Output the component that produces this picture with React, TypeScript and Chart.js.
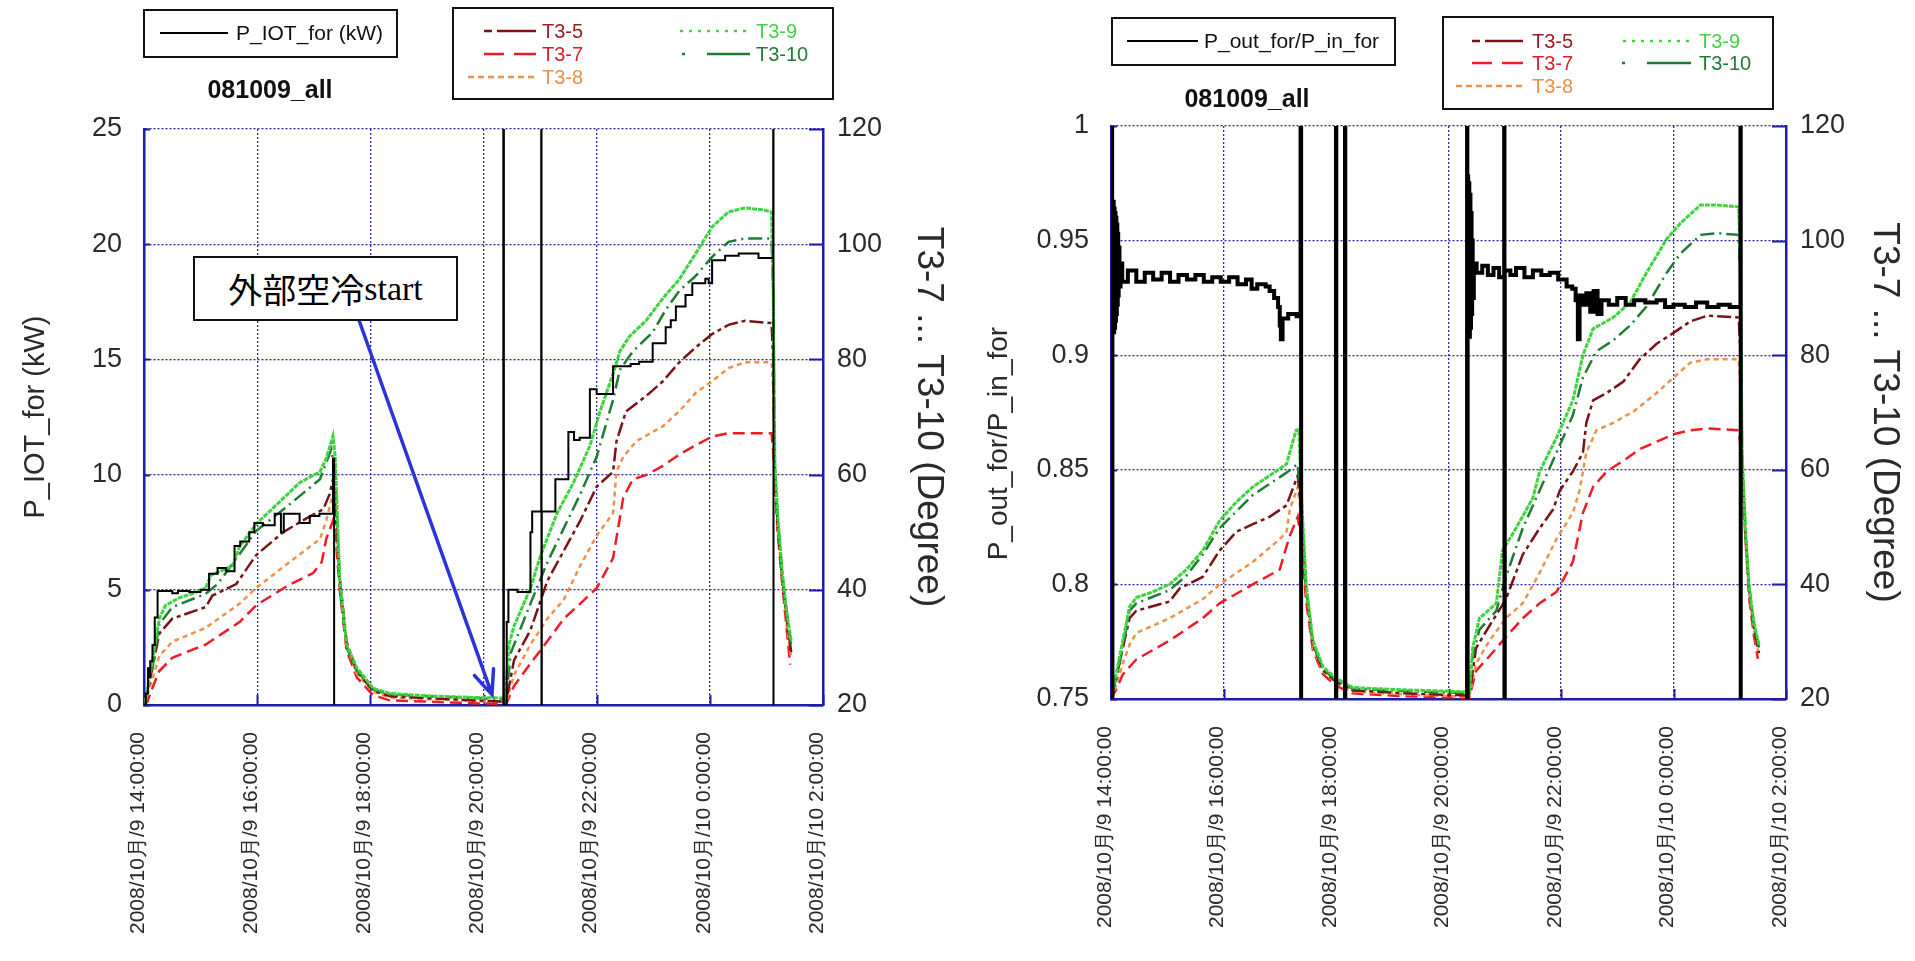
import React, { useEffect, useRef } from "react";
import { Chart, registerables } from "chart.js";

Chart.register(...registerables);

type Pt = [number, number];

// ---------- axis ticks / labels ----------
const X_TICKS = [14, 16, 18, 20, 22, 24, 26];
const X_TICK_LABELS = [
  "2008/10月/9 14:00:00",
  "2008/10月/9 16:00:00",
  "2008/10月/9 18:00:00",
  "2008/10月/9 20:00:00",
  "2008/10月/9 22:00:00",
  "2008/10月/10 0:00:00",
  "2008/10月/10 2:00:00",
];
const POWER_TICKS = [0, 5, 10, 15, 20, 25];
const RATIO_TICKS = [0.75, 0.8, 0.85, 0.9, 0.95, 1];
const RATIO_TICK_LABELS = ["0.75", "0.8", "0.85", "0.9", "0.95", "1"];
const TEMP_TICKS = [20, 40, 60, 80, 100, 120];
const SERIES_NAMES = ["T3-5", "T3-7", "T3-8", "T3-9", "T3-10"];

// ---------- left panel data: [hour, value] ----------
const L_POWER: Pt[] = [
  [14.0, 0], [14.03, 0.5], [14.07, 1.6], [14.09, 1.2], [14.11, 1.9], [14.15, 2.6], [14.19, 3.8], [14.24, 4.95],
  [14.5, 4.85], [14.6, 4.95], [14.8, 4.9], [15.0, 5.0], [15.15, 5.7], [15.3, 5.95], [15.45, 5.8], [15.6, 6.9],
  [15.7, 7.1], [15.86, 7.5], [15.95, 7.9], [16.1, 7.8], [16.31, 8.3], [16.42, 7.5], [16.47, 8.3], [16.75, 7.9],
  [16.93, 8.2], [17.1, 8.3], [17.34, 10.7], [17.36, -1],
  [20.35, 30], [20.36, 0], [20.41, 3.6], [20.44, 5.0], [20.6, 4.9], [20.83, 7.5], [20.86, 8.4],
  [21.02, 30], [21.025, -1], [21.03, 8.4], [21.27, 9.8], [21.5, 11.85], [21.6, 11.5], [21.7, 11.6],
  [21.88, 13.7], [22.0, 13.5], [22.29, 14.7], [22.6, 14.8], [22.75, 14.9], [22.99, 15.7], [23.22, 16.4],
  [23.31, 16.7], [23.4, 17.3], [23.57, 17.8], [23.69, 18.3], [23.92, 18.5], [23.98, 18.3], [24.04, 19.3],
  [24.27, 19.5], [24.51, 19.6], [24.86, 19.4], [25.12, 30], [25.125, -1],
];
const L_T35: Pt[] = [
  [14.0, 20.3], [14.03, 21], [14.15, 26.5], [14.27, 32.4], [14.5, 35], [15.09, 37], [15.21, 39], [15.63, 41],
  [15.98, 46], [16.46, 50], [16.87, 52.4], [17.17, 54], [17.28, 56.6], [17.34, 59.2], [17.38, 55], [17.46, 42],
  [17.58, 31], [17.76, 25.8], [18.05, 22.5], [18.35, 21.5], [19.83, 20.8], [20.4, 20.6],
  [20.54, 27.8], [20.83, 33], [21.13, 41.6], [21.42, 46.8], [21.71, 52], [22.0, 57.9], [22.29, 60.5],
  [22.35, 65.8], [22.52, 71], [22.87, 73.6], [23.17, 76.2], [23.46, 79.5], [23.75, 82.1], [24.04, 84.4],
  [24.33, 86], [24.62, 86.7], [25.09, 86.3], [25.12, 80], [25.15, 60], [25.2, 51], [25.28, 42], [25.36, 35], [25.44, 29],
];
const L_T37: Pt[] = [
  [14.0, 20], [14.06, 20.6], [14.15, 23], [14.27, 25.9], [14.5, 28.2], [15.09, 30.5], [15.69, 34.4],
  [15.98, 37.3], [16.57, 40.9], [16.99, 42.9], [17.14, 44.8], [17.22, 48.8], [17.34, 52], [17.38, 50],
  [17.46, 40], [17.58, 29.5], [17.76, 24.8], [18.05, 21.7], [18.35, 20.8], [19.83, 20.3], [20.4, 20.2],
  [20.54, 23.3], [20.83, 27.2], [21.13, 31.1], [21.42, 35], [21.71, 37.6], [22.0, 40.3], [22.29, 45.5],
  [22.47, 56], [22.64, 59.2], [22.87, 59.9], [23.17, 61.5], [23.46, 63.5], [23.75, 65.1], [24.04, 66.6],
  [24.33, 67.2], [25.09, 67.2], [25.12, 64], [25.15, 58], [25.2, 50], [25.28, 41], [25.36, 33], [25.42, 27],
];
const L_T38: Pt[] = [
  [14.0, 20.2], [14.03, 20.8], [14.15, 24.5], [14.27, 28.5], [14.5, 31], [15.09, 33.4], [15.69, 37.6],
  [15.98, 40.3], [16.57, 44.8], [17.11, 48.8], [17.22, 52], [17.34, 56.6], [17.38, 53], [17.46, 41],
  [17.58, 30.5], [17.76, 25.5], [18.05, 22.3], [18.35, 21.3], [19.83, 20.7], [20.4, 20.5],
  [20.54, 25.2], [20.83, 30.5], [21.13, 35], [21.42, 38.3], [21.71, 44.2], [22.0, 49.4], [22.29, 53.3],
  [22.35, 60.5], [22.47, 63.1], [22.7, 65.8], [23.17, 68.4], [23.46, 71], [23.75, 74.2], [24.04, 76.2],
  [24.33, 78.5], [24.62, 79.5], [25.09, 79.5], [25.12, 75], [25.15, 60], [25.2, 51], [25.28, 42], [25.36, 34], [25.44, 28],
];
const L_T39: Pt[] = [
  [14.0, 20.5], [14.03, 21], [14.1, 25], [14.15, 27.8], [14.22, 32], [14.27, 35], [14.38, 37.3], [14.62, 38.6],
  [14.9, 39.5], [15.09, 40.3], [15.18, 42.5], [15.57, 44.2], [15.69, 47.5], [15.98, 51.4], [16.4, 55.3],
  [16.75, 58.6], [17.11, 60.5], [17.22, 62.8], [17.34, 66.7], [17.38, 63], [17.46, 41.6], [17.58, 30.5],
  [17.76, 26.5], [18.05, 22.9], [18.35, 22.0], [19.0, 21.6], [19.83, 21.3], [20.38, 21.2],
  [20.45, 30.5], [20.54, 33.7], [20.83, 40.3], [21.01, 46], [21.3, 53.3], [21.59, 58.6], [21.88, 65],
  [22.06, 71], [22.29, 77.5], [22.41, 81.4], [22.58, 84], [22.87, 86.7], [23.17, 90.6], [23.46, 93.9],
  [23.75, 98.4], [24.04, 103], [24.33, 105.6], [24.62, 106.3], [24.92, 106], [25.09, 105.6], [25.12, 92],
  [25.15, 62], [25.2, 53], [25.28, 43], [25.36, 36], [25.44, 31],
];
const L_T310: Pt[] = [
  [14.0, 20.5], [14.05, 22], [14.15, 26.5], [14.27, 34], [14.5, 37], [15.09, 39.3], [15.3, 41], [15.69, 46.2],
  [15.98, 50.2], [16.57, 54.8], [17.11, 59.2], [17.31, 64.4], [17.38, 60], [17.46, 40], [17.58, 30],
  [17.76, 26], [18.05, 22.7], [18.35, 21.8], [19.83, 21.2], [20.4, 21],
  [20.48, 29], [20.83, 37.6], [21.13, 44.8], [21.42, 50.7], [21.71, 56.6], [22.0, 63.1], [22.29, 73],
  [22.41, 78.2], [22.64, 81.4], [22.99, 84.7], [23.22, 88.6], [23.46, 91.9], [23.75, 94.5], [24.04, 97.8],
  [24.33, 100.4], [24.62, 101], [25.09, 101], [25.12, 92], [25.15, 61], [25.2, 52], [25.28, 43], [25.36, 36], [25.44, 30],
];

// ---------- right panel data ----------
const R_RATIO: Pt[] = [
  [14.0, 0.74], [14.005, 1.02], [14.01, 0.74], [14.015, 1.02], [14.02, 0.74],
  [14.025, 0.966], [14.032, 0.912], [14.04, 0.967], [14.048, 0.91], [14.056, 0.964], [14.064, 0.912],
  [14.072, 0.962], [14.08, 0.915], [14.088, 0.96], [14.096, 0.918], [14.104, 0.957], [14.112, 0.922],
  [14.12, 0.953], [14.128, 0.926], [14.136, 0.947], [14.15, 0.93], [14.17, 0.94], [14.2, 0.932],
  [14.3, 0.937], [14.45, 0.932], [14.6, 0.936], [14.75, 0.933], [14.9, 0.936], [15.05, 0.932], [15.2, 0.935],
  [15.35, 0.933], [15.5, 0.935], [15.65, 0.932], [15.8, 0.934], [15.95, 0.932], [16.1, 0.934], [16.25, 0.931],
  [16.4, 0.933], [16.5, 0.929], [16.6, 0.931], [16.75, 0.93], [16.82, 0.928], [16.9, 0.925], [16.97, 0.921],
  [17.0, 0.913], [17.02, 0.907], [17.05, 0.916], [17.15, 0.918], [17.3, 0.917],
  [17.37, 1.02], [17.38, 0.7], [18.0, 1.02], [18.005, 0.7], [18.16, 1.02], [18.165, 0.7], [20.33, 1.02], [20.335, 0.7],
  [20.34, 0.978], [20.35, 0.91], [20.36, 0.975], [20.37, 0.908], [20.38, 0.97], [20.39, 0.912], [20.4, 0.962],
  [20.41, 0.918], [20.42, 0.95], [20.43, 0.925], [20.45, 0.94], [20.5, 0.936], [20.6, 0.939], [20.7, 0.935],
  [20.8, 0.938], [20.9, 0.934],
  [20.99, 1.02], [20.995, 0.7], [21.0, 0.937], [21.1, 0.935], [21.2, 0.938], [21.35, 0.934], [21.5, 0.937],
  [21.65, 0.935], [21.8, 0.936], [21.95, 0.933], [22.1, 0.93], [22.2, 0.929], [22.26, 0.924], [22.3, 0.907],
  [22.33, 0.926], [22.4, 0.922], [22.45, 0.927], [22.52, 0.919], [22.58, 0.928], [22.65, 0.918], [22.72, 0.924],
  [22.85, 0.922], [23.0, 0.925], [23.15, 0.922], [23.3, 0.924], [23.5, 0.923], [23.7, 0.924], [23.85, 0.921],
  [24.0, 0.922], [24.2, 0.921], [24.4, 0.923], [24.6, 0.921], [24.8, 0.922], [25.0, 0.921], [25.19, 1.02], [25.195, 0.7],
];
const R_T35: Pt[] = [
  [14.0, 20.2], [14.09, 23.6], [14.21, 28.9], [14.33, 34.1], [14.45, 35.4], [15.04, 37], [15.22, 39.3],
  [15.63, 41.3], [15.93, 45.9], [16.23, 49.2], [16.52, 50.5], [16.82, 51.8], [17.12, 53.8], [17.32, 59],
  [17.38, 53], [17.47, 39], [17.59, 29.5], [17.77, 25], [18.0, 23], [18.3, 21.5], [19.19, 21], [20.37, 20.6],
  [20.49, 28.9], [20.73, 32.8], [21.02, 37.4], [21.32, 45.2], [21.62, 49.8], [21.86, 53.1], [21.98, 56.4],
  [22.21, 59.7], [22.39, 63], [22.45, 68.2], [22.57, 72.1], [22.81, 73.4], [23.11, 75.4], [23.4, 79.3],
  [23.7, 82], [24.0, 83.9], [24.3, 85.9], [24.6, 86.9], [25.16, 86.6], [25.19, 80], [25.22, 61], [25.28, 48.5],
  [25.34, 39.5], [25.43, 32.5], [25.52, 28],
];
const R_T37: Pt[] = [
  [14.0, 20], [14.09, 21.6], [14.21, 24.3], [14.45, 26.9], [15.04, 30.2], [15.63, 34.1], [15.93, 36.7],
  [16.52, 40], [17.0, 42.6], [17.12, 46.6], [17.18, 48.5], [17.32, 51.8], [17.38, 48], [17.47, 37],
  [17.59, 28.5], [17.77, 24.3], [18.0, 22.3], [18.3, 21], [19.19, 20.5], [20.37, 20.2],
  [20.49, 24.9], [20.73, 27.5], [21.02, 30.8], [21.32, 34.1], [21.62, 36.7], [21.92, 38.7], [22.21, 43.9],
  [22.39, 52.5], [22.57, 57], [22.81, 59.7], [23.11, 61.6], [23.4, 63.6], [23.7, 64.9], [24.0, 66.2],
  [24.3, 66.9], [24.6, 67.2], [25.16, 66.9], [25.19, 64], [25.22, 58], [25.28, 48], [25.34, 38], [25.43, 31], [25.5, 27],
];
const R_T38: Pt[] = [
  [14.0, 20.1], [14.09, 22.3], [14.21, 26.2], [14.33, 29.5], [14.45, 31.5], [15.04, 34.1], [15.63, 37.4],
  [15.93, 40], [16.52, 43.9], [17.0, 47.9], [17.12, 49.2], [17.18, 53.1], [17.32, 57], [17.38, 52],
  [17.47, 38.5], [17.59, 29], [17.77, 24.8], [18.0, 22.8], [18.3, 21.3], [19.19, 20.8], [20.37, 20.4],
  [20.49, 26.2], [20.73, 30.2], [21.02, 34.1], [21.32, 36.7], [21.62, 42], [21.92, 47.9], [22.21, 52.5],
  [22.33, 56.4], [22.45, 63], [22.63, 66.9], [22.93, 68.2], [23.29, 70.2], [23.7, 73.4], [24.0, 76.1],
  [24.3, 78.7], [24.6, 79.3], [25.16, 79.3], [25.19, 74], [25.22, 60], [25.28, 48], [25.34, 39], [25.43, 32], [25.52, 27.5],
];
const R_T39: Pt[] = [
  [14.0, 20.5], [14.09, 24.3], [14.21, 30.2], [14.33, 36.1], [14.45, 37.7], [14.74, 38.7], [15.04, 40],
  [15.34, 42.6], [15.63, 45.9], [15.93, 51.1], [16.23, 54.4], [16.52, 57], [16.82, 59], [17.12, 61],
  [17.29, 66.9], [17.34, 67], [17.38, 56.4], [17.47, 40], [17.59, 30.2], [17.77, 25.6], [18.0, 23.6],
  [18.3, 22], [19.19, 21.6], [20.2, 21.3], [20.37, 21.2],
  [20.43, 28.9], [20.55, 34.1], [20.85, 36.7], [20.96, 45.9], [21.2, 49.8], [21.5, 55.1], [21.62, 59.7],
  [21.92, 65.6], [22.21, 72.1], [22.39, 80], [22.57, 84.6], [22.93, 86.6], [23.23, 89.2], [23.52, 94.4],
  [23.88, 100.3], [24.12, 103], [24.48, 106.2], [24.77, 106.2], [25.16, 105.9], [25.19, 95], [25.22, 63],
  [25.28, 49.8], [25.34, 40], [25.43, 33.4], [25.49, 30.8], [25.52, 29.5],
];
const R_T310: Pt[] = [
  [14.0, 20.3], [14.09, 23.5], [14.21, 28.9], [14.33, 35.4], [14.45, 36.7], [15.04, 39], [15.34, 41.5],
  [15.63, 45.2], [15.93, 49.8], [16.52, 55.6], [17.12, 59.5], [17.32, 61], [17.38, 54], [17.47, 39],
  [17.59, 29.5], [17.77, 25.2], [18.0, 23.3], [18.3, 21.8], [19.19, 21.4], [20.37, 21],
  [20.43, 27.5], [20.55, 32.1], [20.85, 35.4], [21.02, 41.3], [21.32, 49.8], [21.62, 56.4], [21.92, 63],
  [22.21, 69.5], [22.39, 76.1], [22.63, 80.7], [22.93, 82.6], [23.23, 85.2], [23.52, 88.5], [23.88, 94.4],
  [24.12, 97.7], [24.48, 101], [24.77, 101.3], [25.16, 101], [25.19, 92], [25.22, 62], [25.28, 49],
  [25.34, 40], [25.43, 33], [25.52, 29],
];

// annotation anchors (hour, kW)
const ARROW_FROM: Pt = [17.8, 16.7];
const ARROW_TO: Pt = [20.15, 0.45];

// ---------- styles ----------
const BLUE = "#1d1da8";
const GRID = "#2b2ba0";
const SANS = "'Liberation Sans', Arial, sans-serif";
const NARROW = "'Liberation Sans Narrow', 'Liberation Sans', Arial, sans-serif";
const STYLE: Record<string, { color: string; dash: number[]; width: number; legendDash: string; text: string }> = {
  "T3-5": { color: "#7a1216", dash: [14, 4, 4, 4], width: 2.5, legendDash: "8 5 38 0", text: "#9c1d24" },
  "T3-7": { color: "#ee1c25", dash: [12, 6], width: 2.5, legendDash: "20 10 22 0", text: "#d8202c" },
  "T3-8": { color: "#f0914a", dash: [5, 4], width: 2.5, legendDash: "6 4", text: "#e98f4a" },
  "T3-9": { color: "#3fd43f", dash: [5, 1], width: 3, legendDash: "3 6", text: "#45d045" },
  "T3-10": { color: "#1f7d33", dash: [2, 5, 14, 5], width: 2.5, legendDash: "3 22 45 0", text: "#237a35" },
};
const DRAW_ORDER = ["T3-9", "T3-10", "T3-5", "T3-8", "T3-7"];

interface Panel {
  width: number;
  height: number;
  plot: { left: number; right: number; top: number; bottom: number };
  leftMin: number;
  leftMax: number;
  leftTicks: number[];
  leftLabel: (v: number, i: number) => string;
  leftTitle: string;
  leftTitleSize: number;
  leftTitlePad: number;
  rightTitleSize: number;
  rightTitlePad: number;
  mainLabel: string;
  main: Pt[];
  mainWidth: number;
  temps: Record<string, Pt[]>;
  arrow: boolean;
}

const inwardTicks = {
  id: "inwardTicks",
  beforeDatasetsDraw(chart: any) {
    const { ctx, chartArea: a, scales } = chart;
    ctx.save();
    ctx.strokeStyle = BLUE;
    ctx.lineWidth = 2;
    ctx.beginPath();
    scales.x.ticks.forEach((t: any) => {
      const px = Math.round(scales.x.getPixelForValue(t.value)) + 0.5;
      ctx.moveTo(px, a.bottom);
      ctx.lineTo(px, a.bottom - 10);
    });
    scales.yR.ticks.forEach((t: any) => {
      const py = Math.round(scales.yR.getPixelForValue(t.value)) + 0.5;
      ctx.moveTo(a.right, py);
      ctx.lineTo(a.right - 14, py);
    });
    scales.yL.ticks.forEach((t: any) => {
      const py = Math.round(scales.yL.getPixelForValue(t.value)) + 0.5;
      ctx.moveTo(a.left, py);
      ctx.lineTo(a.left + 6, py);
    });
    ctx.stroke();
    ctx.restore();
  },
};

const arrowPlugin = {
  id: "coolingArrow",
  afterDatasetsDraw(chart: any) {
    const { ctx, scales } = chart;
    const x1 = scales.x.getPixelForValue(ARROW_FROM[0]);
    const y1 = scales.yL.getPixelForValue(ARROW_FROM[1]);
    const x2 = scales.x.getPixelForValue(ARROW_TO[0]);
    const y2 = scales.yL.getPixelForValue(ARROW_TO[1]);
    const ang = Math.atan2(y2 - y1, x2 - x1);
    const head = 26;
    ctx.save();
    ctx.strokeStyle = "#2e33d8";
    ctx.lineWidth = 3.5;
    ctx.lineCap = "round";
    ctx.beginPath();
    ctx.moveTo(x1, y1);
    ctx.lineTo(x2, y2);
    ctx.moveTo(x2 - head * Math.cos(ang - 0.4), y2 - head * Math.sin(ang - 0.4));
    ctx.lineTo(x2, y2);
    ctx.lineTo(x2 - head * Math.cos(ang + 0.4), y2 - head * Math.sin(ang + 0.4));
    ctx.stroke();
    ctx.restore();
  },
};

function buildConfig(p: Panel): any {
  const datasets: any[] = [
    {
      label: p.mainLabel,
      data: p.main.map(([x, y]) => ({ x, y })),
      yAxisID: "yL",
      borderColor: "#000",
      borderWidth: p.mainWidth,
      stepped: "before",
      pointRadius: 0,
      fill: false,
    },
    ...DRAW_ORDER.map((name) => ({
      label: name,
      data: p.temps[name].map(([x, y]) => ({ x, y })),
      yAxisID: "yR",
      borderColor: STYLE[name].color,
      borderDash: STYLE[name].dash,
      borderWidth: STYLE[name].width,
      pointRadius: 0,
      tension: 0,
      fill: false,
    })),
  ];
  return {
    type: "line",
    data: { datasets },
    options: {
      animation: false,
      responsive: false,
      events: [],
      layout: { padding: { top: p.plot.top, left: 0, right: 0, bottom: 0 } },
      plugins: { legend: { display: false }, tooltip: { enabled: false }, title: { display: false } },
      scales: {
        x: {
          type: "linear",
          min: 14,
          max: 26,
          afterBuildTicks: (s: any) => {
            s.ticks = X_TICKS.map((v) => ({ value: v }));
          },
          afterFit: (s: any) => {
            s.height = p.height - p.plot.bottom;
          },
          ticks: {
            autoSkip: false,
            maxRotation: 90,
            minRotation: 90,
            padding: 27,
            labelOffset: -6,
            color: "#2a2a2a",
            font: { family: SANS, size: 21 },
            callback: (_v: any, i: number) => X_TICK_LABELS[i],
          },
          grid: { color: GRID, lineWidth: 1.3, drawTicks: false },
          border: { color: BLUE, width: 2.5, dash: [2, 2] },
        },
        yL: {
          type: "linear",
          position: "left",
          min: p.leftMin,
          max: p.leftMax,
          afterBuildTicks: (s: any) => {
            s.ticks = p.leftTicks.map((v) => ({ value: v }));
          },
          afterFit: (s: any) => {
            s.width = p.plot.left;
          },
          ticks: {
            padding: 22,
            color: "#2a2a2a",
            font: { family: NARROW, size: 27 },
            callback: (v: any, i: number) => p.leftLabel(v, i),
          },
          grid: { color: GRID, lineWidth: 1.3, drawTicks: false },
          border: { color: BLUE, width: 2.5, dash: [2, 2] },
          title: {
            display: true,
            text: p.leftTitle,
            color: "#2a2a2a",
            font: { family: SANS, size: p.leftTitleSize },
            padding: { top: p.leftTitlePad, bottom: 0 },
          },
        },
        yR: {
          type: "linear",
          position: "right",
          min: 20,
          max: 120,
          afterBuildTicks: (s: any) => {
            s.ticks = TEMP_TICKS.map((v) => ({ value: v }));
          },
          afterFit: (s: any) => {
            s.width = p.width - p.plot.right;
          },
          ticks: {
            padding: 14,
            color: "#2a2a2a",
            font: { family: NARROW, size: 27 },
            callback: (v: any) => String(v),
          },
          grid: { display: false, drawTicks: false },
          border: { color: BLUE, width: 2.5 },
          title: {
            display: true,
            text: "T3-7 ... T3-10 (Degree)",
            color: "#2a2a2a",
            font: { family: SANS, size: p.rightTitleSize },
            padding: { top: p.rightTitlePad, bottom: 0 },
          },
        },
      },
    },
    plugins: p.arrow ? [inwardTicks, arrowPlugin] : [inwardTicks],
  };
}

const LEFT_PANEL: Panel = {
  width: 960,
  height: 961,
  plot: { left: 144, right: 823, top: 129, bottom: 705 },
  leftMin: 0,
  leftMax: 25,
  leftTicks: POWER_TICKS,
  leftLabel: (v) => String(v),
  leftTitle: "P_IOT_for (kW)",
  leftTitleSize: 29,
  leftTitlePad: 19,
  rightTitleSize: 37,
  rightTitlePad: 10,
  mainLabel: "P_IOT_for (kW)",
  main: L_POWER,
  mainWidth: 2,
  temps: { "T3-5": L_T35, "T3-7": L_T37, "T3-8": L_T38, "T3-9": L_T39, "T3-10": L_T310 },
  arrow: true,
};

const RIGHT_PANEL: Panel = {
  width: 955,
  height: 961,
  plot: { left: 151, right: 826, top: 126, bottom: 699 },
  leftMin: 0.75,
  leftMax: 1,
  leftTicks: RATIO_TICKS,
  leftLabel: (_v, i) => RATIO_TICK_LABELS[i],
  leftTitle: "P_out_for/P_in_for        ",
  leftTitleSize: 28,
  leftTitlePad: 22,
  rightTitleSize: 37,
  rightTitlePad: 9,
  mainLabel: "P_out_for/P_in_for",
  main: R_RATIO,
  mainWidth: 4,
  temps: { "T3-5": R_T35, "T3-7": R_T37, "T3-8": R_T38, "T3-9": R_T39, "T3-10": R_T310 },
  arrow: false,
};

function ChartPanel({ panel, left }: { panel: Panel; left: number }) {
  const ref = useRef<HTMLCanvasElement | null>(null);
  useEffect(() => {
    if (!ref.current) return;
    const chart = new Chart(ref.current, buildConfig(panel));
    return () => chart.destroy();
  }, [panel]);
  return (
    <canvas
      ref={ref}
      width={panel.width}
      height={panel.height}
      style={{ position: "absolute", left, top: 0, width: panel.width, height: panel.height }}
    />
  );
}

function Text({ x, y, text, size, color = "#111", family = SANS, weight = 400, center = false }: any) {
  const lh = Math.round(size * 1.25);
  return (
    <div
      style={{
        position: "absolute",
        left: x,
        top: y - lh / 2,
        height: lh,
        lineHeight: lh + "px",
        fontSize: size,
        fontFamily: family,
        fontWeight: weight,
        color,
        whiteSpace: "nowrap",
        transform: center ? "translateX(-50%)" : undefined,
      }}
    >
      {text}
    </div>
  );
}

interface LegendLayout {
  box1: [number, number, number, number];
  mainSample: [number, number, number];
  mainText: [number, number];
  mainLabel: string;
  title: [number, number];
  box2: [number, number, number, number];
  items: Record<string, { x1: number; x2: number; y: number; tx: number }>;
}

const LEFT_LEGEND: LegendLayout = {
  box1: [144, 10, 253, 47],
  mainSample: [160, 228, 33],
  mainText: [236, 33],
  mainLabel: "P_IOT_for (kW)",
  title: [270, 89],
  box2: [453, 8, 380, 91],
  items: {
    "T3-5": { x1: 484, x2: 536, y: 31, tx: 542 },
    "T3-7": { x1: 484, x2: 536, y: 54, tx: 542 },
    "T3-8": { x1: 468, x2: 536, y: 77, tx: 542 },
    "T3-9": { x1: 680, x2: 750, y: 31, tx: 756 },
    "T3-10": { x1: 682, x2: 750, y: 54, tx: 756 },
  },
};
const RIGHT_LEGEND: LegendLayout = {
  box1: [1112, 18, 283, 47],
  mainSample: [1127, 1198, 41],
  mainText: [1204, 41],
  mainLabel: "P_out_for/P_in_for",
  title: [1247, 98],
  box2: [1443, 17, 330, 92],
  items: {
    "T3-5": { x1: 1472, x2: 1523, y: 41, tx: 1532 },
    "T3-7": { x1: 1472, x2: 1523, y: 63, tx: 1532 },
    "T3-8": { x1: 1456, x2: 1526, y: 86, tx: 1532 },
    "T3-9": { x1: 1623, x2: 1694, y: 41, tx: 1699 },
    "T3-10": { x1: 1622, x2: 1691, y: 63, tx: 1699 },
  },
};

function LegendGraphics({ l }: { l: LegendLayout }) {
  return (
    <g>
      <rect x={l.box1[0]} y={l.box1[1]} width={l.box1[2]} height={l.box1[3]} fill="#fff" stroke="#111" strokeWidth={2} />
      <line x1={l.mainSample[0]} x2={l.mainSample[1]} y1={l.mainSample[2]} y2={l.mainSample[2]} stroke="#000" strokeWidth={2} />
      <rect x={l.box2[0]} y={l.box2[1]} width={l.box2[2]} height={l.box2[3]} fill="#fff" stroke="#111" strokeWidth={2} />
      {SERIES_NAMES.map((n) => {
        const it = l.items[n];
        return (
          <line
            key={n}
            x1={it.x1}
            x2={it.x2}
            y1={it.y}
            y2={it.y}
            stroke={STYLE[n].color}
            strokeWidth={2.5}
            strokeDasharray={STYLE[n].legendDash}
          />
        );
      })}
    </g>
  );
}

function LegendTexts({ l }: { l: LegendLayout }) {
  return (
    <>
      <Text x={l.mainText[0]} y={l.mainText[1]} text={l.mainLabel} size={21} family={SANS} />
      <Text x={l.title[0]} y={l.title[1]} text="081009_all" size={25} weight={700} center />
      {SERIES_NAMES.map((n) => (
        <Text key={n} x={l.items[n].tx} y={l.items[n].y} text={n} size={20} color={STYLE[n].text} family={NARROW} />
      ))}
    </>
  );
}

export default function App() {
  return (
    <div style={{ position: "fixed", left: 0, top: 0, width: 1915, height: 961, background: "#fff", overflow: "hidden" }}>
      <ChartPanel panel={LEFT_PANEL} left={0} />
      <ChartPanel panel={RIGHT_PANEL} left={960} />
      <svg width={1915} height={961} style={{ position: "absolute", left: 0, top: 0, pointerEvents: "none" }}>
        <LegendGraphics l={LEFT_LEGEND} />
        <LegendGraphics l={RIGHT_LEGEND} />
      </svg>
      <LegendTexts l={LEFT_LEGEND} />
      <LegendTexts l={RIGHT_LEGEND} />
      <div
        style={{
          position: "absolute",
          left: 193,
          top: 256,
          width: 265,
          height: 65,
          boxSizing: "border-box",
          border: "2px solid #111",
          background: "#fff",
          display: "flex",
          alignItems: "center",
          justifyContent: "center",
          fontSize: 34,
          color: "#000",
          whiteSpace: "nowrap",
        }}
      >
        <span style={{ fontFamily: "'Noto Sans CJK JP', sans-serif" }}>外部空冷</span>
        <span style={{ fontFamily: "'Liberation Serif', 'Times New Roman', serif" }}>start</span>
      </div>
    </div>
  );
}
